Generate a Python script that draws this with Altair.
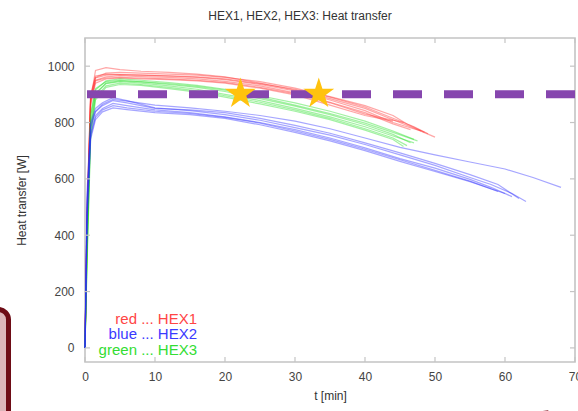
import altair as alt
import pandas as pd

# ---------------- data ----------------
TIME_R = [0, 0.3, 0.8, 1.5, 3, 5, 8, 12, 16, 20, 25, 30, 35, 40, 44]
red_lines = [
    (TIME_R + [47, 50], [0, 450, 880, 985, 995, 988, 982, 978, 972, 962, 940, 915, 885, 850, 810, 780, 748]),
    (TIME_R + [48], [0, 500, 900, 965, 972, 970, 968, 965, 960, 952, 935, 912, 880, 842, 800, 770]),
    (TIME_R + [46.5], [0, 420, 870, 950, 962, 966, 963, 960, 955, 946, 930, 905, 872, 835, 795, 775]),
    (TIME_R + [47, 49], [0, 470, 885, 958, 968, 970, 968, 966, 962, 955, 938, 918, 890, 855, 815, 785, 760]),
    (TIME_R[:-1] + [45.5], [0, 440, 875, 948, 958, 960, 958, 955, 950, 942, 925, 902, 870, 830, 800]),
    (TIME_R + [46, 48.5], [0, 480, 890, 960, 975, 978, 975, 972, 968, 960, 945, 922, 892, 860, 825, 795, 765]),
    (TIME_R[:-1] + [44], [0, 400, 860, 940, 955, 958, 955, 952, 948, 940, 922, 898, 862, 825, 805]),
]

green_lines = [
    (TIME_R + [47], [0, 380, 820, 915, 948, 955, 950, 942, 932, 918, 895, 870, 840, 805, 770, 740]),
    (TIME_R + [46.5], [0, 350, 780, 900, 940, 948, 944, 935, 925, 910, 885, 858, 828, 792, 758, 728]),
    (TIME_R + [47.5], [0, 400, 830, 920, 945, 950, 945, 938, 928, 915, 890, 862, 832, 798, 765, 735]),
    (TIME_R + [46], [0, 330, 760, 890, 930, 940, 935, 925, 912, 895, 872, 845, 815, 778, 745, 718]),
    (TIME_R + [47], [0, 360, 800, 905, 938, 945, 940, 930, 918, 900, 878, 850, 820, 785, 752, 728]),
    (TIME_R + [45.5], [0, 300, 740, 880, 925, 935, 932, 920, 908, 890, 866, 840, 810, 773, 740, 715]),
]

TIME_B = [0, 0.3, 0.8, 1.5, 2.5, 4, 6, 10, 15, 20, 25, 30, 35, 40, 45, 50, 55]
blue_lines = [
    (TIME_B + [60, 64, 68], [0, 520, 790, 840, 865, 882, 876, 862, 852, 840, 825, 805, 778, 745, 712, 685, 660, 635, 605, 570]),
    (TIME_B + [58, 61, 63], [0, 560, 800, 850, 870, 888, 878, 852, 842, 828, 808, 782, 755, 722, 685, 648, 605, 580, 548, 520]),
    (TIME_B + [58, 61], [0, 480, 760, 825, 850, 868, 860, 845, 835, 820, 800, 775, 745, 710, 672, 638, 598, 570, 537]),
    (TIME_B + [60], [0, 440, 740, 810, 838, 852, 846, 835, 828, 815, 792, 765, 735, 700, 662, 626, 590, 548]),
    (TIME_B + [59, 62], [0, 520, 780, 838, 860, 878, 870, 850, 845, 835, 815, 790, 762, 728, 692, 655, 615, 580, 530]),
    (TIME_B + [59], [0, 460, 750, 818, 845, 860, 852, 840, 832, 818, 798, 770, 740, 705, 668, 630, 592, 555]),
]

groups = ["HEX1", "HEX2", "HEX3"]
group_colors = ["#ff2a2a", "#2a2aff", "#22dd22"]

target_value = [900]
star_times = [22.2, 33.4]
star_values = [902, 902]

legend_labels = ["red ... HEX1", "blue ... HEX2", "green ... HEX3"]
legend_colors = ["#ff4545", "#3a3aff", "#33dd33"]
legend_t = [16, 16, 16]
legend_v = [103, 48, -7]

x_ticks = [0, 10, 20, 30, 40, 50, 60, 70]
y_ticks = [0, 200, 400, 600, 800, 1000]

# ---------------- tables ----------------
rows = []
for grp, lines in (("HEX1", red_lines), ("HEX3", green_lines), ("HEX2", blue_lines)):
    for i, (ts, vs) in enumerate(lines):
        for k, (t, v) in enumerate(zip(ts, vs)):
            rows.append({"t": t, "v": v, "grp": grp, "id": f"{grp}_{i}", "k": k})
lines_df = pd.DataFrame(rows)

W, H = 490, 324
x_scale = alt.Scale(domain=[0, 70], nice=False, zero=False)
y_scale = alt.Scale(domain=[-50, 1100], nice=False, zero=False)

x_enc = alt.X("t:Q", scale=x_scale, title="t [min]",
              axis=alt.Axis(values=x_ticks, ticks=False, domain=False, grid=False, format="d",
                            labelFlush=False, labelPadding=9, titlePadding=8))
y_enc = alt.Y("v:Q", scale=y_scale, title="Heat transfer [W]",
              axis=alt.Axis(values=y_ticks, ticks=False, domain=False, grid=False, format="d",
                            labelFlush=False, labelPadding=11, titlePadding=19))

lines = alt.Chart(lines_df).mark_line(strokeWidth=1.2, opacity=0.42).encode(
    x=x_enc, y=y_enc,
    color=alt.Color("grp:N", scale=alt.Scale(domain=groups, range=group_colors), legend=None),
    detail="id:N",
    order=alt.Order("k:Q"),
)

rule = alt.Chart(pd.DataFrame({"v": target_value})).mark_rule(
    color="#8646ae", strokeWidth=8, strokeDash=[29, 22], strokeCap="butt"
).encode(y=y_enc)

STAR = "M0,-1L0.2245,-0.309L0.951,-0.309L0.363,0.118L0.588,0.809L0,0.382L-0.588,0.809L-0.363,0.118L-0.951,-0.309L-0.2245,-0.309Z"
stars = alt.Chart(pd.DataFrame({"t": star_times, "v": star_values})).mark_point(
    shape=STAR, filled=True, color="#ffc20e", opacity=1, size=1050, strokeWidth=0
).encode(x=x_enc, y=y_enc)

legend_df = pd.DataFrame({"t": legend_t, "v": legend_v, "label": legend_labels, "c": legend_colors})
legend_text = alt.Chart(legend_df).mark_text(
    align="right", baseline="middle", fontSize=15, font="Liberation Sans"
).encode(x=x_enc, y=y_enc, text="label:N", color=alt.Color("c:N", scale=None))

frame_color = "#c4c4c4"
xt = pd.DataFrame({"t": x_ticks})
yt = pd.DataFrame({"v": y_ticks})
tick_bottom = alt.Chart(xt).mark_rule(color=frame_color, strokeWidth=1.2).encode(
    x=x_enc, y=alt.value(H), y2=alt.value(H - 5))
tick_top = alt.Chart(xt).mark_rule(color=frame_color, strokeWidth=1.2).encode(
    x=x_enc, y=alt.value(0), y2=alt.value(5))
tick_left = alt.Chart(yt).mark_rule(color=frame_color, strokeWidth=1.2).encode(
    y=y_enc, x=alt.value(0), x2=alt.value(5))
tick_right = alt.Chart(yt).mark_rule(color=frame_color, strokeWidth=1.2).encode(
    y=y_enc, x=alt.value(W), x2=alt.value(W - 5))

# slide decorations (outside the plot)
deco_box = alt.Chart(pd.DataFrame({"d": [0]})).mark_rect(
    fill="#dcb6ba", stroke="#6e0c16", strokeWidth=5, cornerRadius=10, clip=False
).encode(x=alt.value(-110), x2=alt.value(-76.5), y=alt.value(271.5), y2=alt.value(400))

deco_arrow = alt.Chart(pd.DataFrame({"d": [0]})).mark_point(
    shape="triangle-up", filled=True, color="#7a0c18", opacity=1, size=160, angle=292, clip=False
).encode(x=alt.value(456), y=alt.value(376))

chart = alt.layer(
    lines, rule, stars, legend_text, tick_bottom, tick_top, tick_left, tick_right,
    deco_box, deco_arrow
).properties(
    width=W, height=H,
    autosize=alt.AutoSizeParams(type="none"),
    padding={"left": 85, "top": 38, "right": 3, "bottom": 49},
    title=alt.Title("HEX1, HEX2, HEX3: Heat transfer", fontSize=12, font="Liberation Sans",
                    color="#333333", fontWeight="normal", anchor="middle", dx=-30, offset=14),
    background="white",
).configure_view(
    stroke=frame_color, strokeWidth=1.6
).configure_axis(
    labelFont="Liberation Sans", labelFontSize=12, labelColor="#444444",
    titleFont="Liberation Sans", titleFontSize=12, titleColor="#333333", titleFontWeight="normal",
)

chart.save("out.html", embed_options={"renderer": "svg", "actions": False})
